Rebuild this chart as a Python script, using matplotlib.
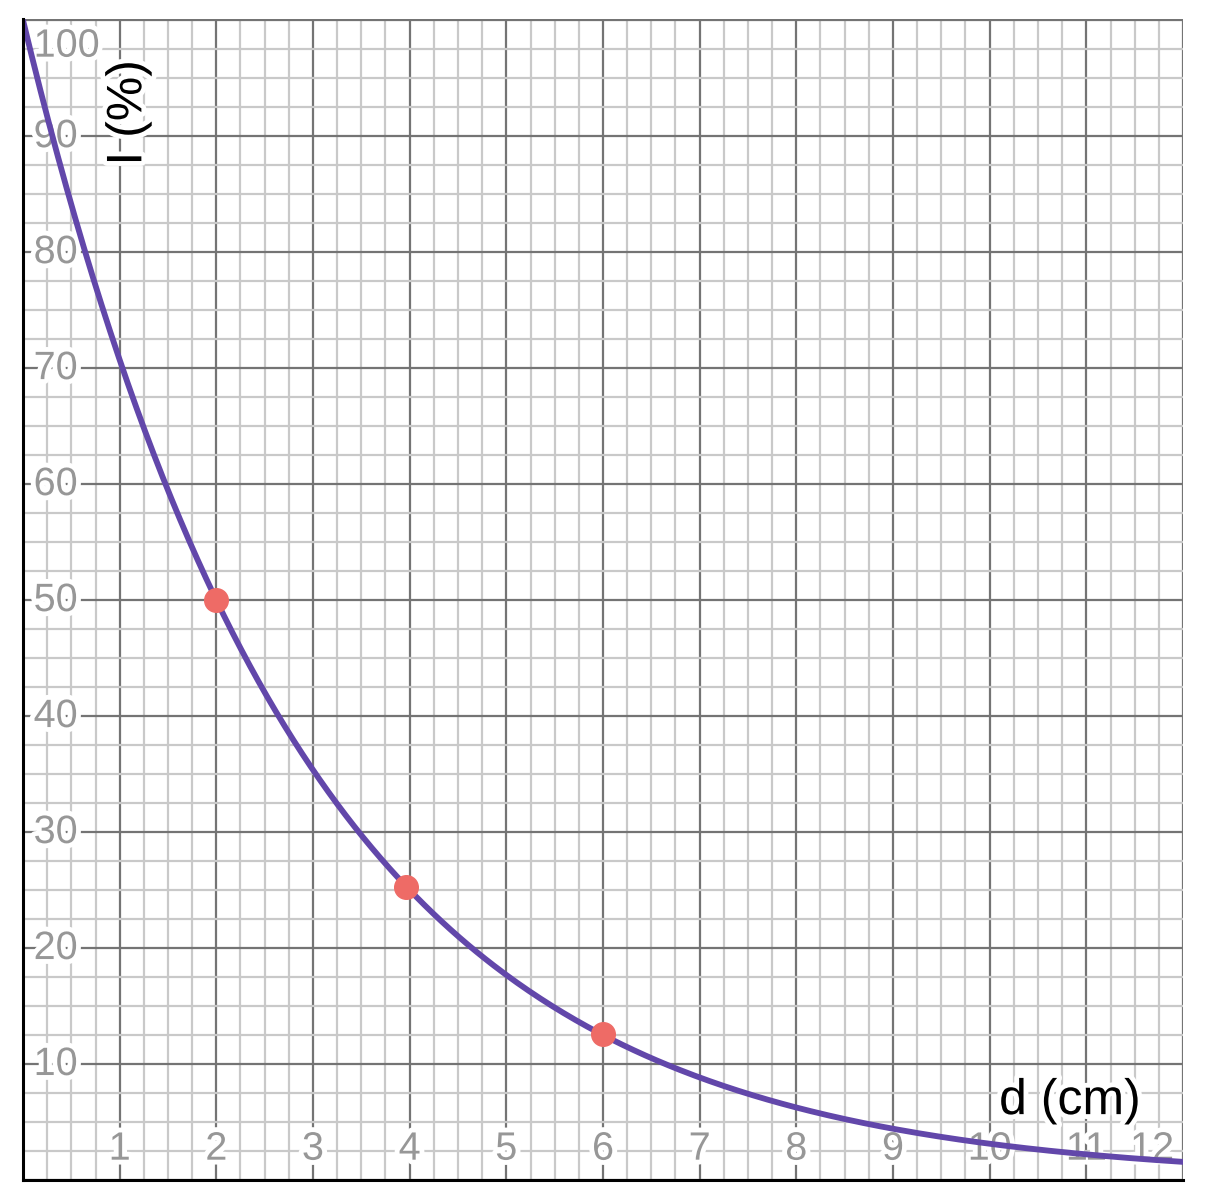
import matplotlib
matplotlib.use("Agg")
import matplotlib.pyplot as plt
import matplotlib.patheffects as pe
import numpy as np

# curve: I = I0 * (1/2)^(d / half_value)
I0 = 100.0
half_value = 2.0

point_d = [2.0, 3.96, 6.0]
point_I = [50.0, 25.3, 12.6]

x_ticks = [1, 2, 3, 4, 5, 6, 7, 8, 9, 10, 11, 12]
y_ticks = [10, 20, 30, 40, 50, 60, 70, 80, 90, 100]

xmax, ymax = 12.0, 100.1

plt.rcParams['font.family'] = ['Liberation Sans', 'DejaVu Sans']

fig = plt.figure(figsize=(12.06, 12.0), dpi=100)
ax = fig.add_axes([23 / 1206, 20 / 1200, 1160 / 1206, 1161 / 1200])
ax.set_xlim(0, xmax)
ax.set_ylim(0, ymax)

# grid
ax.set_xticks(np.arange(0, xmax + 0.01, 1))
ax.set_yticks(np.arange(0, ymax + 0.01, 10))
ax.set_xticks(np.arange(0, xmax + 0.01, 0.25), minor=True)
ax.set_yticks(np.arange(0, ymax + 0.01, 2.5), minor=True)
ax.grid(which='minor', color='#c9c9c9', linewidth=1.6)
ax.grid(which='major', color='#747474', linewidth=1.6)
ax.set_axisbelow(True)
ax.tick_params(which='both', length=0, labelbottom=False, labelleft=False)
for side in ['top', 'right']:
    ax.spines[side].set_visible(False)
for side in ['left', 'bottom']:
    ax.spines[side].set_linewidth(2.2)
    ax.spines[side].set_color('black')
    ax.spines[side].set_zorder(5)

halo = [pe.withStroke(linewidth=7, foreground='white')]

for t in x_ticks:
    xp = min(t, xmax - 0.32)
    ax.text(xp, 2.7, str(t), ha='center', va='center', fontsize=28.5,
            color='#979797', path_effects=halo, zorder=3)
for t in y_ticks:
    yp = min(t, ymax - 2.3)
    ax.text(0.11, yp, str(t), ha='left', va='center', fontsize=28.5,
            color='#979797', path_effects=halo, zorder=3)

d = np.linspace(0, xmax, 400)
ax.plot(d, I0 * 0.5 ** (d / half_value), color='#6247aa', linewidth=4.2,
        zorder=4, clip_on=True)
ax.plot(point_d, point_I, 'o', color='#ee6b66', markersize=17, zorder=6)

ax.text(10.83, 6.8, 'd (cm)', ha='center', va='center', fontsize=36,
        color='black', path_effects=halo, zorder=3)
ax.text(1.09, 92.0, 'I (%)', ha='center', va='center', rotation=90,
        fontsize=36, color='black', path_effects=halo, zorder=3)

plt.savefig('out.png', dpi=100)
